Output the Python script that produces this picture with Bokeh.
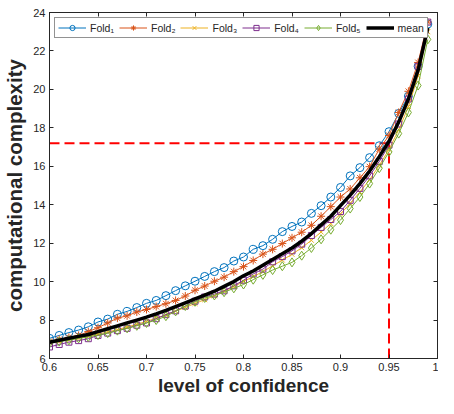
from bokeh.plotting import figure
from bokeh.models import LinearAxis, Range1d, FixedTicker, Legend, LegendItem
from bokeh.embed import file_html
from bokeh.resources import INLINE

conf = [0.60, 0.61, 0.62, 0.63, 0.64, 0.65, 0.66, 0.67, 0.68, 0.69,
        0.70, 0.71, 0.72, 0.73, 0.74, 0.75, 0.76, 0.77, 0.78, 0.79,
        0.80, 0.81, 0.82, 0.83, 0.84, 0.85, 0.86, 0.87, 0.88, 0.89,
        0.90, 0.91, 0.92, 0.93, 0.94, 0.95, 0.96, 0.97, 0.98, 0.99]

fold1 = [7.05, 7.20, 7.35, 7.48, 7.65, 7.90, 8.05, 8.30, 8.45, 8.65,
         8.87, 9.02, 9.27, 9.53, 9.78, 10.02, 10.27, 10.52, 10.73, 11.07,
         11.28, 11.68, 11.87, 12.20, 12.60, 12.87, 13.10, 13.55, 13.95, 14.40,
         14.90, 15.50, 15.93, 16.45, 17.07, 17.80, 18.75, 19.65, 21.20, 23.40]
fold2 = [6.90, 7.00, 7.10, 7.20, 7.40, 7.60, 7.85, 8.10, 8.22, 8.42,
         8.55, 8.70, 8.85, 9.02, 9.25, 9.55, 9.77, 10.02, 10.23, 10.52,
         10.78, 11.10, 11.43, 11.68, 11.98, 12.28, 12.57, 12.93, 13.40, 13.90,
         14.40, 14.82, 15.40, 15.98, 16.90, 17.60, 18.80, 19.90, 21.40, 23.50]
fold3 = [6.82, 6.90, 6.98, 7.06, 7.15, 7.27, 7.38, 7.50, 7.64, 7.78,
         7.93, 8.10, 8.27, 8.46, 8.66, 8.86, 9.06, 9.26, 9.50, 9.74,
         10.00, 10.26, 10.52, 10.82, 11.12, 11.42, 11.76, 12.15, 12.58, 13.02,
         13.52, 14.07, 14.66, 15.30, 16.05, 16.88, 17.90, 19.10, 20.70, 23.00]
fold4 = [6.60, 6.73, 6.85, 6.93, 7.03, 7.20, 7.32, 7.45, 7.57, 7.73,
         7.85, 8.07, 8.28, 8.48, 8.73, 8.98, 9.20, 9.35, 9.52, 9.78,
         10.07, 10.40, 10.65, 11.03, 11.30, 11.60, 11.95, 12.40, 12.82, 13.23,
         13.65, 14.23, 14.85, 15.50, 16.25, 17.10, 18.20, 19.50, 21.20, 23.50]
fold5 = [6.80, 6.88, 6.95, 7.05, 7.12, 7.22, 7.32, 7.45, 7.57, 7.70,
         7.85, 8.00, 8.20, 8.45, 8.73, 8.95, 9.15, 9.28, 9.45, 9.65,
         9.85, 10.10, 10.35, 10.60, 10.80, 11.00, 11.35, 11.75, 12.20, 12.70,
         13.20, 13.80, 14.40, 15.10, 15.90, 16.75, 17.70, 18.80, 20.20, 22.60]
mean_vals = [6.85, 6.95, 7.05, 7.15, 7.25, 7.40, 7.55, 7.70, 7.85, 8.00,
             8.15, 8.32, 8.50, 8.70, 8.90, 9.10, 9.30, 9.50, 9.75, 10.00,
             10.30, 10.55, 10.85, 11.15, 11.45, 11.75, 12.10, 12.50, 12.95, 13.40,
             13.95, 14.50, 15.10, 15.75, 16.50, 17.30, 18.30, 19.50, 21.00, 23.20]

guide_h_x = [0.6, 0.95]
guide_h_y = [17.2, 17.2]
guide_v_x = [0.95, 0.95]
guide_v_y = [6.0, 17.2]

x_ticks = [0.6, 0.65, 0.7, 0.75, 0.8, 0.85, 0.9, 0.95, 1.0]
x_tick_labels = ["0.6", "0.65", "0.7", "0.75", "0.8", "0.85", "0.9", "0.95", "1"]
y_ticks = [6, 8, 10, 12, 14, 16, 18, 20, 22, 24]

labels = ["Fold\u2081", "Fold\u2082", "Fold\u2083", "Fold\u2084", "Fold\u2085", "mean"]

FONT = "Liberation Sans"
AX = "#262626"

p = figure(width=438, height=398, x_range=Range1d(0.6, 1.0), y_range=Range1d(6, 24),
           output_backend="svg", toolbar_location=None,
           min_border_left=2, min_border_right=1, min_border_top=12, min_border_bottom=0)
p.grid.visible = False
p.outline_line_color = AX
p.outline_line_width = 1
p.background_fill_color = "white"

for ax in (p.xaxis[0], p.yaxis[0]):
    ax.major_tick_in = 4
    ax.major_tick_out = 0
    ax.minor_tick_in = 0
    ax.minor_tick_out = 0
    ax.axis_line_color = AX
    ax.major_tick_line_color = AX
    ax.major_label_text_font = FONT
    ax.major_label_text_font_size = "11px"
    ax.major_label_text_color = AX
    ax.axis_label_text_font = FONT
    ax.axis_label_text_font_style = "bold"
    ax.axis_label_text_color = AX

p.xaxis.ticker = FixedTicker(ticks=x_ticks)
p.xaxis.major_label_overrides = {t: s for t, s in zip(x_ticks, x_tick_labels)}
p.xaxis.axis_label = "level of confidence"
p.xaxis.axis_label_text_font_size = "19px"
p.xaxis.major_label_standoff = 4
p.xaxis.axis_label_standoff = 1
p.yaxis.ticker = FixedTicker(ticks=y_ticks)
p.yaxis.axis_label = "computational complexity"
p.yaxis.axis_label_text_font_size = "20.5px"
p.yaxis.major_label_standoff = 4
p.yaxis.axis_label_standoff = 4

top = LinearAxis(ticker=FixedTicker(ticks=x_ticks),
                 major_label_overrides={t: "" for t in x_ticks},
                 major_label_text_font_size="1px",
                 major_tick_in=4, major_tick_out=0, minor_tick_in=0, minor_tick_out=0,
                 axis_line_color=AX, major_tick_line_color=AX, major_label_standoff=0)
right = LinearAxis(ticker=FixedTicker(ticks=y_ticks),
                   major_label_overrides={t: "" for t in y_ticks},
                   major_label_text_font_size="1px",
                   major_tick_in=4, major_tick_out=0, minor_tick_in=0, minor_tick_out=0,
                   axis_line_color=AX, major_tick_line_color=AX, major_label_standoff=0)
p.add_layout(top, "above")
p.add_layout(right, "right")

RED = "#FF0000"
p.line(guide_h_x, guide_h_y, line_color=RED, line_width=2, line_dash="10 5")
p.line(guide_v_x, guide_v_y, line_color=RED, line_width=2, line_dash="10 5")

series = [
    (fold1, "#0072BD", "circle", 8),
    (fold2, "#D95319", "asterisk", 8),
    (fold3, "#EDB120", "x", 7),
    (fold4, "#7E2F8E", "square", 6),
    (fold5, "#77AC30", "diamond", 9),
]
items = []
for (vals, col, mk, sz), lab in zip(series, labels):
    l = p.line(conf, vals, line_color=col, line_width=1)
    s = p.scatter(conf, vals, marker=mk, size=sz, line_color=col, fill_color=None, line_width=1)
    items.append(LegendItem(label=lab, renderers=[l, s]))
lm = p.line(conf, mean_vals, line_color="black", line_width=3.5)
items.append(LegendItem(label=labels[5], renderers=[lm]))

legend = Legend(items=items, orientation="horizontal", location="top_left",
                label_text_font=FONT, label_text_font_size="10.5px", label_text_color=AX,
                glyph_width=28, glyph_height=13, label_standoff=4, spacing=5,
                padding=3, margin=5, border_line_color=AX, border_line_width=1,
                background_fill_color="white", background_fill_alpha=1.0)
p.add_layout(legend)

open("out.html", "w").write(file_html(p, INLINE))
